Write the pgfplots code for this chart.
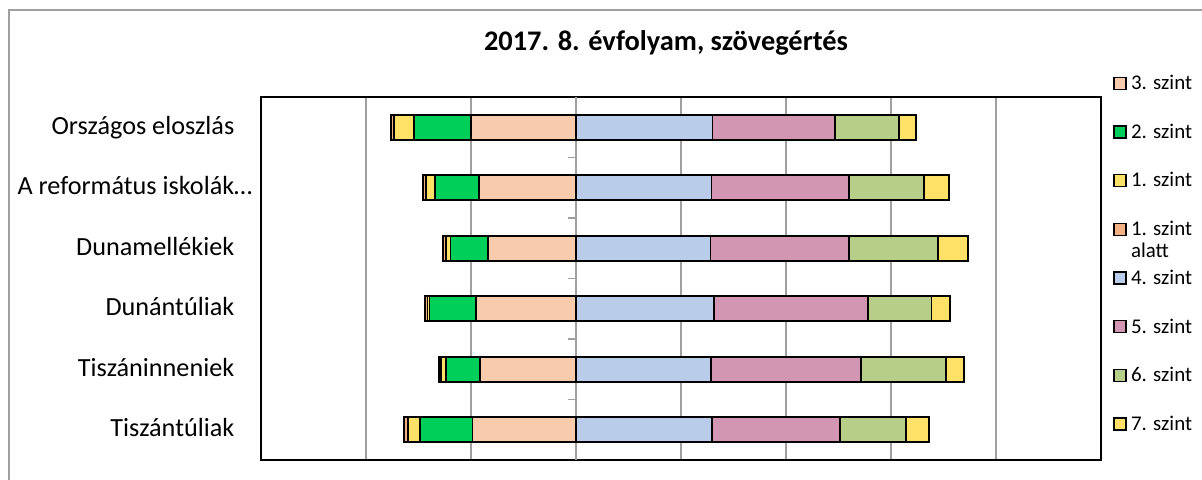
\documentclass[border=0pt]{standalone}
\usepackage{pgfplots}
\pgfplotsset{compat=1.18}
\usepackage{pgfplotstable}
\usepackage{fontspec}
\setmainfont{Carlito}
\definecolor{cA}{HTML}{F4B183}
\definecolor{cB}{HTML}{FFE168}
\definecolor{cC}{HTML}{00D05A}
\definecolor{cD}{HTML}{F8CBAD}
\definecolor{cE}{HTML}{B9CDEB}
\definecolor{cF}{HTML}{D295B2}
\definecolor{cG}{HTML}{B7CE89}
\definecolor{cH}{HTML}{FFE168}
\definecolor{gridc}{HTML}{A0A0A0}

% left side (negative), values in percent
\pgfplotstableread{
cat  s3     s2     s1    s0
0   -20.0  -10.8  -3.9  -0.6
1   -18.5   -8.4  -1.7  -0.5
2   -16.7   -7.2  -0.9  -0.5
3   -19.1   -8.8  -0.4  -0.4
4   -18.3   -6.4  -1.0  -0.4
5   -19.7  -10.0  -2.3  -0.7
}\leftdata
% right side (positive)
\pgfplotstableread{
cat  s4    s5    s6    s7
0    26.0  23.3  12.2  3.2
1    25.8  26.2  14.3  4.7
2    25.6  26.4  17.0  5.6
3    26.3  29.3  12.1  3.6
4    25.7  28.6  16.1  3.5
5    25.9  24.4  12.6  4.4
}\rightdata

\pgfplotsset{
  common/.style={
    at={(261bp,20bp)}, anchor=south west, scale only axis,
    width=840bp, height=363bp,
    xmin=-60, xmax=100, ymin=-0.5, ymax=5.5, y dir=reverse,
    xbar stacked, bar width=25bp,
  },
  seg/.style={draw=black, line width=1.8bp},
}

\begin{document}
\begin{tikzpicture}[x=1bp,y=1bp]
\useasboundingbox (0,0) rectangle (1202,480);
\draw[color=gridc, line width=1.3bp] (9,-10) |- (1230,470);
\node[font=\bfseries\fontsize{28.5}{32}\selectfont, anchor=base] at (666,429) {2017. 8. évfolyam, szövegértés};

\begin{axis}[common,
  xtick={-40,-20,0,20,40,60,80}, xticklabels={},
  xmajorgrids, grid style={color=gridc, line width=1.6bp},
  xtick style={draw=none},
  ytick={0,1,2,3,4,5},
  yticklabels={Országos eloszlás, {A református iskolák…\kern-18bp}, Dunamellékiek, Dunántúliak, Tiszáninneniek, Tiszántúliak},
  ytick style={draw=none},
  yticklabel style={font=\fontsize{26.3}{30}\selectfont, anchor=base east, inner sep=0pt, xshift=-26.5bp, yshift=-7bp},
  axis line style={line width=1.3bp, black},
]
\addplot[seg, fill=cD] table[x=s3, y=cat] {\leftdata};
\addplot[seg, fill=cC] table[x=s2, y=cat] {\leftdata};
\addplot[seg, fill=cB] table[x=s1, y=cat] {\leftdata};
\addplot[seg, fill=cA] table[x=s0, y=cat] {\leftdata};
\end{axis}

\begin{axis}[common,
  axis x line=none, axis y line=middle,
  axis line style={-, color=gridc, line width=1.6bp},
  ytick={0.5,1.5,2.5,3.5,4.5}, yticklabels={},
  ytick style={color=gridc, line width=1.6bp},
  major tick length=8bp, tick align=outside,
  legend style={at={(1.0143,1.066)}, anchor=north west, draw=none, fill=none,
    font=\fontsize{21}{25}\selectfont, row sep=28.8bp, inner sep=0pt,
    cells={anchor=west}, nodes={inner xsep=4.5bp}},
  legend image code/.code={\draw[#1, line width=1.3bp] (0bp,-6bp) rectangle (12bp,6bp);},
]
\addlegendimage{seg, fill=cD}\addlegendentry{3. szint}
\addlegendimage{seg, fill=cC}\addlegendentry{2. szint}
\addlegendimage{seg, fill=cB}\addlegendentry{1. szint}
\addlegendimage{seg, fill=cA}\addlegendentry{\smash{\begin{tabular}[t]{@{}l@{}}1. szint\\[-3bp]alatt\end{tabular}}\vphantom{1. szint}}
\addplot[seg, fill=cE] table[x=s4, y=cat] {\rightdata};
\addlegendentry{4. szint}
\addplot[seg, fill=cF] table[x=s5, y=cat] {\rightdata};
\addlegendentry{5. szint}
\addplot[seg, fill=cG] table[x=s6, y=cat] {\rightdata};
\addlegendentry{6. szint}
\addplot[seg, fill=cH] table[x=s7, y=cat] {\rightdata};
\addlegendentry{7. szint}
\end{axis}
\end{tikzpicture}
\end{document}
